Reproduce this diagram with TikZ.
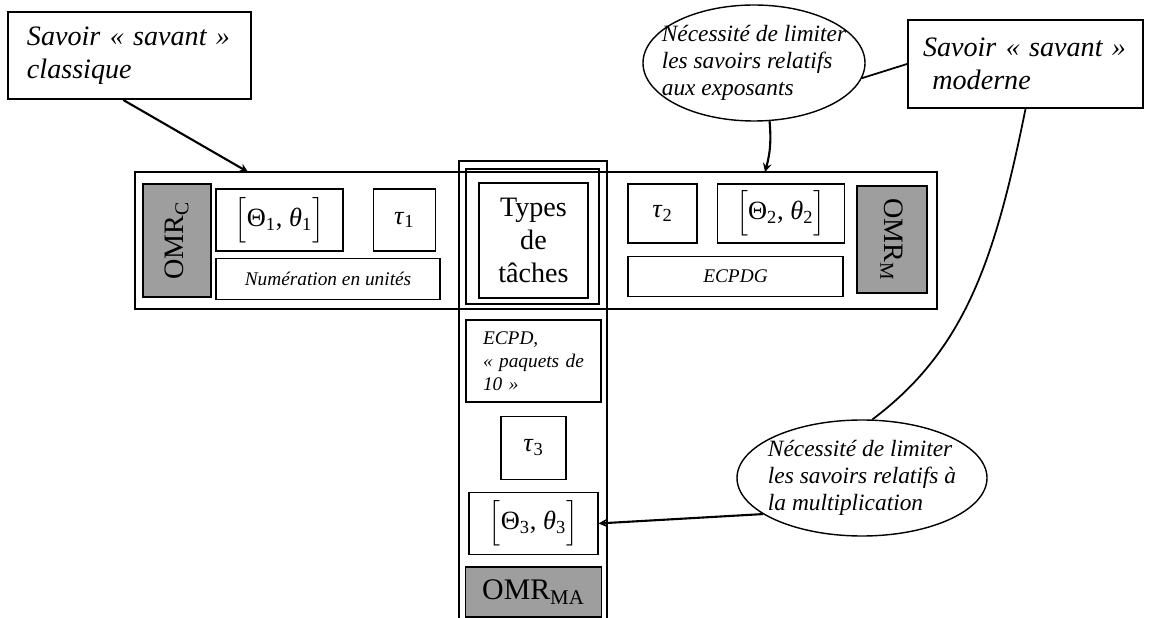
\documentclass[tikz,border=0pt]{standalone}
\usepackage{fontspec}
\setmainfont{Liberation Serif}[ItalicFont={Liberation Serif Italic}]
\usepackage{amsmath}
\usetikzlibrary{shapes,arrows,positioning,calc}

\begin{document}
\begin{tikzpicture}[
    x=1cm, y=1cm,
    node distance=0.25cm and 0.5cm,
    frame/.style={rectangle, draw, line width=0.8pt, inner sep=0pt},
    cell/.style={rectangle, draw, line width=0.7pt, inner sep=0pt, align=center},
    savant/.style={rectangle, draw, line width=1.1pt, inner sep=0pt, text width=4.1cm, align=left, font=\fontsize{16}{19}\selectfont\itshape},
    omr/.style={rectangle, draw, line width=0.9pt, fill=black!38, inner sep=0pt, font=\fontsize{16}{19}\selectfont},
    note/.style={ellipse, draw, line width=0.8pt, inner sep=0pt},
    notetext/.style={align=left, inner sep=0pt, font=\fontsize{13.3}{15.3}\selectfont\itshape},
    small/.style={font=\fontsize{11}{13}\selectfont\itshape},
    greek/.style={font=\fontsize{15}{17}\selectfont},
    arrow/.style={->, >=stealth, line width=1.2pt},
    link/.style={line width=1pt}
]
    \useasboundingbox (0,0) rectangle (23,-12.36);

    % Savoirs savants
    \node[savant, minimum width=4.86cm, minimum height=1.74cm] (classique) at (2.59,-1.11) {Savoir « savant »\\classique};
    \node[savant, minimum width=4.70cm, minimum height=1.76cm] (moderne) at (20.51,-1.28) {Savoir « savant »\\\ moderne};

    % Horizontal band and vertical band
    \node[frame, minimum width=16.04cm, minimum height=2.74cm] (band) at (10.72,-4.81) {};
    \draw[line width=0.8pt] (9.18,-12.4) -- (9.18,-3.22) -- (12.14,-3.22) -- (12.14,-12.4);
    \node[frame, minimum width=2.66cm, minimum height=2.70cm] (inner) at (10.65,-4.73) {};
    \node[cell, minimum width=2.18cm, minimum height=2.30cm, font=\fontsize{16}{19}\selectfont] (types) at (10.67,-4.81) {Types\\de\\tâches};

    % OMR classique
    \node[omr, rotate=90, minimum width=2.26cm, minimum height=1.36cm] (omrc) at (3.54,-4.81) {OMR\textsubscript{C}};
    \node[cell, greek, minimum width=2.54cm, minimum height=1.24cm] (theta1) at (5.59,-4.40) {$\Bigl[$Θ\textsubscript{1}, \textit{θ}\textsubscript{1}$\Bigr]$};
    \node[cell, greek, minimum width=1.24cm, minimum height=1.24cm, right=0.58cm of theta1] (tau1) {\textit{τ}\textsubscript{1}};
    \node[cell, small, minimum width=4.48cm, minimum height=0.82cm, below=0.12cm of theta1.south west, anchor=north west] (numer) {Numération en unités};

    % OMR moderne
    \node[cell, greek, minimum width=1.38cm, minimum height=1.18cm] (tau2) at (13.25,-4.27) {\textit{τ}\textsubscript{2}};
    \node[cell, greek, minimum width=2.54cm, minimum height=1.18cm, right=0.38cm of tau2] (theta2) {$\Bigl[$Θ\textsubscript{2}, \textit{θ}\textsubscript{2}$\Bigr]$};
    \node[cell, small, minimum width=4.30cm, minimum height=0.80cm, below=0.24cm of tau2.south west, anchor=north west] (ecpdg) {ECPDG};
    \node[omr, rotate=-90, minimum width=2.14cm, minimum height=1.40cm] (omrm) at (17.84,-4.79) {OMR\textsubscript{M}};

    % OMR mathematique
    \node[cell, small, minimum width=2.70cm, minimum height=1.64cm, text width=2.02cm, align=left] (ecpd) at (10.67,-7.22) {ECPD,\\« paquets de\\10 »};
    \node[cell, greek, minimum width=1.30cm, minimum height=1.26cm, below=0.26cm of ecpd] (tau3) {\textit{τ}\textsubscript{3}};
    \node[cell, greek, minimum width=2.58cm, minimum height=1.24cm, below=0.24cm of tau3] (theta3) {$\Bigl[$Θ\textsubscript{3}, \textit{θ}\textsubscript{3}$\Bigr]$};
    \node[omr, minimum width=2.72cm, minimum height=1.00cm, below=0.22cm of theta3, font=\fontsize{17}{19}\selectfont] (omrma) {OMR\textsubscript{MA}};

    % Notes
    \node[note, minimum width=4.44cm, minimum height=2.32cm] (expo) at (15.08,-1.26) {};
    \node[notetext] (expotext) at (expo.center) {Nécessité de limiter\\les savoirs relatifs\\aux exposants};
    \node[note, minimum width=5.0cm, minimum height=2.32cm] (mult) at (17.24,-9.56) {};
    \node[notetext] (multtext) at (mult.center) {Nécessité de limiter\\les savoirs relatifs à\\la multiplication};

    % Arrows
    \coordinate (classtip) at (4.96,-3.44);
    \coordinate (expotip) at (15.30,-3.44);
    \draw[arrow] (classique.-98) -- (classtip);
    \draw[arrow] (expo.-75) to[bend left=10] (expotip);
    \draw[link] (expo.-8) -- (moderne.west);
    \draw[link] (moderne.south) .. controls (19.9,-5.2) and (19.3,-7.0) .. (mult.80);
    \draw[arrow] (mult.200) -- (theta3.east);

\end{tikzpicture}
\end{document}
